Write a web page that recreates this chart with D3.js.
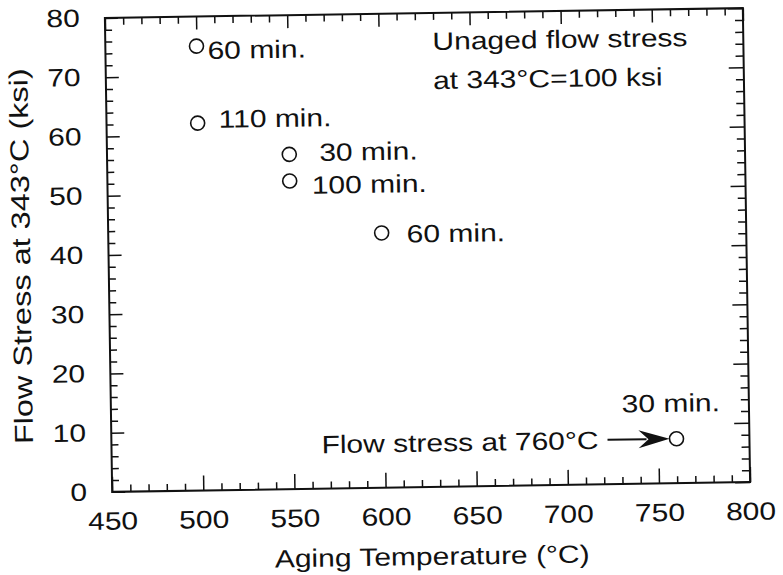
<!DOCTYPE html>
<head>
    <script src="https://d3js.org/d3.v7.min.js"></script>
    <title>Flow stress vs aging temperature</title>
    <style>
        body { margin: 0; background: white; }
        text { font-family: "Liberation Sans", Arial, sans-serif; fill: #111; }
    </style>
</head>
<body>
<svg width="783" height="575" class="chart" style="background-color: white"></svg>
<script>
    // values
    const temps = [500, 500, 550, 550, 600, 760];
    const stress = [75, 62, 56.5, 52, 43, 7.5];
    const times = ["60 min.", "110 min.", "30 min.", "100 min.", "60 min.", "30 min."];
    const xMajor = [450, 500, 550, 600, 650, 700, 750, 800];
    const yMajor = [0, 10, 20, 30, 40, 50, 60, 70, 80];
    const xMinor = d3.range(450, 801, 10).filter(v => v % 50 !== 0);
    const yMinor = d3.range(0, 81, 2).filter(v => v % 10 !== 0);

    // where each time label sits relative to its circle (dx, dy, anchor)
    const labelPos = [[11, 13, "start"], [21, 5, "start"], [30, 7, "start"],
                      [22, 13, "start"], [25, 10, "start"], [44, -27, "end"]];

    const margin = {top: 13, right: 36.5, bottom: 88, left: 108.5},
        width = 783 - margin.left - margin.right,
        height = 575 - margin.top - margin.bottom;
    const stretch = 1.2;   // the scanned lettering is wide

    const svg = d3.select(".chart");
    // the scan is tilted a little, so the whole figure is turned with it
    const root = svg.append("g")
        .attr("transform", "rotate(-0.88," + (margin.left + width / 2) + "," + (margin.top + height / 2) + ")");
    const g = root.append("g")
        .attr("transform", "translate(" + margin.left + "," + margin.top + ")");

    const x = d3.scaleLinear().domain([450, 800]).range([0, width]);
    const y = d3.scaleLinear().domain([0, 80]).range([height, 0]);

    function styleTicks(sel) {
        sel.select(".domain").remove();
        sel.selectAll("line").attr("stroke", "#111").attr("stroke-width", 1.5);
        sel.selectAll("text")
            .style("font-size", "25px")
            .attr("fill", "#111")
            .attr("transform", "scale(" + stretch + ",1)");
    }

    // bottom
    g.append("g").attr("transform", "translate(0," + height + ")")
        .call(d3.axisBottom(x).tickValues(xMajor).tickSize(-15).tickPadding(20))
        .call(styleTicks);
    g.append("g").attr("transform", "translate(0," + height + ")")
        .call(d3.axisBottom(x).tickValues(xMinor).tickSize(-7).tickFormat(""))
        .call(styleTicks);
    // top
    g.append("g")
        .call(d3.axisTop(x).tickValues(xMajor).tickSize(-13).tickFormat(""))
        .call(styleTicks);
    g.append("g")
        .call(d3.axisTop(x).tickValues(xMinor).tickSize(-7).tickFormat(""))
        .call(styleTicks);
    // left
    g.append("g")
        .call(d3.axisLeft(y).tickValues(yMajor).tickSize(-13).tickPadding(21))
        .call(styleTicks);
    g.append("g")
        .call(d3.axisLeft(y).tickValues(yMinor).tickSize(-7).tickFormat(""))
        .call(styleTicks);
    // right
    g.append("g").attr("transform", "translate(" + width + ",0)")
        .call(d3.axisRight(y).tickValues(yMajor).tickSize(-15).tickFormat(""))
        .call(styleTicks);
    g.append("g").attr("transform", "translate(" + width + ",0)")
        .call(d3.axisRight(y).tickValues(yMinor).tickSize(-8).tickFormat(""))
        .call(styleTicks);

    g.append("rect")
        .attr("width", width).attr("height", height)
        .attr("fill", "none").attr("stroke", "#111").attr("stroke-width", 2);

    // axis titles
    g.append("text")
        .attr("transform", "translate(" + (width / 2) + "," + (height + 78) + ") scale(" + stretch + ",1)")
        .attr("text-anchor", "middle")
        .style("font-size", "25px")
        .text("Aging Temperature (°C)");
    g.append("text")
        .attr("transform", "translate(" + (30 - margin.left) + "," + (height / 2) + ") rotate(-90) scale(1.25,1)")
        .attr("text-anchor", "middle")
        .style("font-size", "26px")
        .text("Flow Stress at 343°C (ksi)");

    const points = temps.map((t, i) => ({t: t, s: stress[i], label: times[i], pos: labelPos[i]}));

    g.selectAll(".pt")
        .data(points)
        .enter()
        .append("circle")
        .attr("class", "pt")
        .attr("cx", d => x(d.t))
        .attr("cy", d => y(d.s))
        .attr("r", 7)
        .attr("fill", "white")
        .attr("stroke", "#111")
        .attr("stroke-width", 1.6);

    g.selectAll(".ptLabel")
        .data(points)
        .enter()
        .append("text")
        .attr("class", "ptLabel")
        .attr("transform", d => "translate(" + (x(d.t) + d.pos[0]) + "," + (y(d.s) + d.pos[1]) + ") scale(" + stretch + ",1)")
        .attr("text-anchor", d => d.pos[2])
        .style("font-size", "25px")
        .text(d => d.label);

    // note in the upper right
    const note = g.append("text")
        .attr("transform", "translate(" + (x(630) - 1) + ",37) scale(" + stretch + ",1)")
        .style("font-size", "25px");
    note.append("tspan").attr("x", 0).attr("y", 0).text("Unaged flow stress");
    note.append("tspan").attr("x", 0).attr("y", 39).text("at 343°C=100 ksi");

    // arrow pointing at the 760 point
    const last = points[points.length - 1];
    const px = x(last.t), py = y(last.s);
    g.append("text")
        .attr("transform", "translate(" + (px - 78) + "," + (py + 9) + ") scale(" + stretch + ",1)")
        .attr("text-anchor", "end")
        .style("font-size", "25px")
        .text("Flow stress at 760°C");
    g.append("line")
        .attr("x1", px - 69).attr("y1", py)
        .attr("x2", px - 30).attr("y2", py)
        .attr("stroke", "#111").attr("stroke-width", 2);
    g.append("path")
        .attr("d", "M" + (px - 7) + "," + py +
            " L" + (px - 38) + "," + (py - 9) +
            " L" + (px - 28) + "," + py +
            " L" + (px - 38) + "," + (py + 9) + " Z")
        .attr("fill", "#111");
</script>
</body>
